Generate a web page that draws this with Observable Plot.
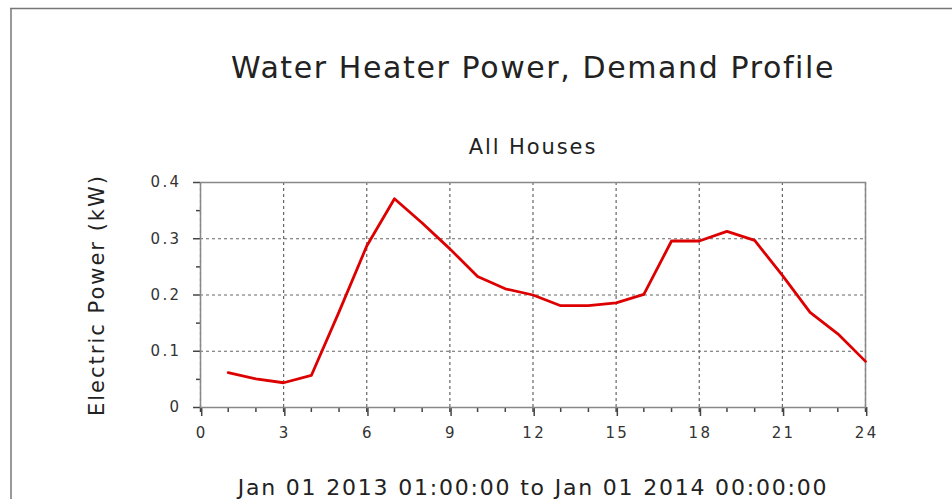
<!DOCTYPE html>
<html>
<head>
<meta charset="utf-8">
<script src="https://cdn.jsdelivr.net/npm/d3@7"></script>
<script src="https://cdn.jsdelivr.net/npm/@observablehq/plot@0.6"></script>
<style>
  html, body { margin: 0; padding: 0; background: #fff; }
  svg { display: block; }
</style>
</head>
<body>
<div id="chart"></div>
<script>
const hours = [1,2,3,4,5,6,7,8,9,10,11,12,13,14,15,16,17,18,19,20,21,22,23,24];
const power = [0.062,0.051,0.044,0.057,0.170,0.287,0.371,0.328,0.282,0.233,0.211,0.200,
               0.181,0.181,0.186,0.201,0.296,0.296,0.313,0.297,0.235,0.169,0.131,0.082];
const xMajorTicks = [0,3,6,9,12,15,18,21,24];
const xMinorTicks = d3.range(0, 25, 1);
const yMajorTicks = [0,0.1,0.2,0.3,0.4];
const yMinorTicks = [0.05,0.15,0.25,0.35];
const title = "Water Heater Power, Demand Profile";
const subtitle = "All Houses";
const xLabel = "Jan 01 2013 01:00:00 to Jan 01 2014 00:00:00";
const yLabel = "Electric Power (kW)";

const data = hours.map((h, i) => ({hour: h, kw: power[i]}));
const font = "DejaVu Sans, sans-serif";

const plot = Plot.plot({
  width: 952,
  height: 499,
  marginLeft: 200,
  marginRight: 87,
  marginTop: 182,
  marginBottom: 92,
  style: {fontFamily: font, background: "#fff", color: "#222"},
  x: {domain: [0, 24], label: null},
  y: {domain: [0, 0.4], label: null},
  marks: [
    Plot.gridX(xMajorTicks, {stroke: "#666", strokeOpacity: 1, strokeDasharray: "3,3", strokeWidth: 1.2}),
    Plot.gridY(yMajorTicks, {stroke: "#666", strokeOpacity: 1, strokeDasharray: "3,3", strokeWidth: 1.2}),
    Plot.axisX(xMinorTicks, {tickSize: 5, text: null, label: null, stroke: "#444", strokeWidth: 1.5}),
    Plot.axisX(xMajorTicks, {tickSize: 9, tickPadding: 11, fontSize: 15, stroke: "#444", strokeWidth: 1.5,
      fill: "#333", label: null, dx: 1.2}),
    Plot.axisY(yMinorTicks, {tickSize: 4, text: null, label: null, stroke: "#444", strokeWidth: 1.5}),
    Plot.axisY(yMajorTicks, {tickSize: 7, tickPadding: 12, fontSize: 15, stroke: "#444", strokeWidth: 1.5,
      fill: "#333", label: null, tickFormat: d => String(+d.toFixed(2))}),
    Plot.frame({stroke: "#888", strokeWidth: 1.5}),
    Plot.line(data, {x: "hour", y: "kw", stroke: "#dd0000", strokeWidth: 2.8, curve: "linear"}),
    Plot.text([title], {text: d => d, frameAnchor: "top", dy: -114, lineAnchor: "middle", fontSize: 30, fill: "#222"}),
    Plot.text([subtitle], {text: d => d, frameAnchor: "top", dy: -35, lineAnchor: "middle", fontSize: 21, fill: "#222"}),
    Plot.text([xLabel], {text: d => d, frameAnchor: "bottom", dy: 80, lineAnchor: "middle", fontSize: 22, fill: "#222"}),
    Plot.text([yLabel], {text: d => d, frameAnchor: "left", dx: -103, rotate: -90, textAnchor: "middle",
      lineAnchor: "middle", fontSize: 21, fill: "#222"})
  ]
});

const svg = d3.select(plot);
// letter spacing to match the reference's wide rendering
const spacing = new Map([[title, "1.6px"], [subtitle, "1.9px"], [xLabel, "1.8px"], [yLabel, "2px"]]);
svg.selectAll("text").each(function () {
  const t = this.textContent;
  if (spacing.has(t)) this.setAttribute("letter-spacing", spacing.get(t));
});
svg.selectAll('g[aria-label="x-axis tick label"] text, g[aria-label="y-axis tick label"] text')
  .attr("letter-spacing", "2.4px");

svg.append("line").attr("x1", 10).attr("x2", 952).attr("y1", 8.5).attr("y2", 8.5)
  .attr("stroke", "#777").attr("stroke-width", 1.5);
svg.append("line").attr("x1", 11).attr("x2", 11).attr("y1", 8).attr("y2", 499)
  .attr("stroke", "#777").attr("stroke-width", 1.5);

document.getElementById("chart").appendChild(plot);
</script>
</body>
</html>
